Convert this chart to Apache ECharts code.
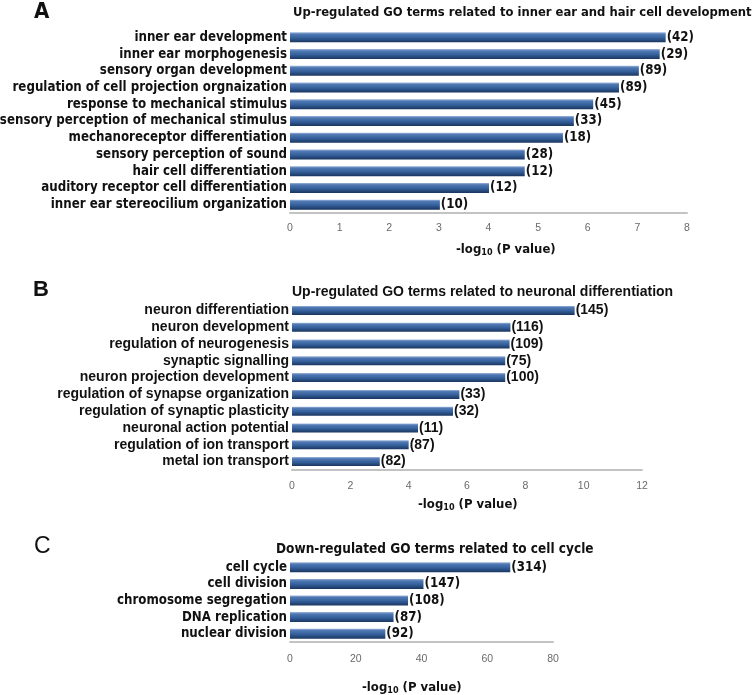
<!DOCTYPE html>
<html>
<head>
<meta charset="utf-8">
<script src="https://cdn.jsdelivr.net/npm/echarts@6/dist/echarts.min.js"></script>
<style>html,body{margin:0;padding:0;background:#fff;}#c{width:755px;height:695px;}</style>
</head>
<body>
<div id="c"></div>
<script>
// Panel A
const catA = ['inner ear development','inner ear morphogenesis','sensory organ development','regulation of cell projection orgnaization','response to mechanical stimulus','sensory perception of mechanical stimulus','mechanoreceptor differentiation','sensory perception of sound','hair cell differentiation','auditory receptor cell differentiation','inner ear stereocilium organization'];
const valA = [7.57, 7.45, 7.03, 6.63, 6.11, 5.72, 5.50, 4.73, 4.73, 4.01, 3.02];
const cntA = [42, 29, 89, 89, 45, 33, 18, 28, 12, 12, 10];
const ticksA = {min: 0, max: 8, interval: 1};
// Panel B
const catB = ['neuron differentiation','neuron development','regulation of neurogenesis','synaptic signalling','neuron projection development','regulation of synapse organization','regulation of synaptic plasticity','neuronal action potential','regulation of ion transport','metal ion transport'];
const valB = [9.69, 7.49, 7.46, 7.31, 7.31, 5.74, 5.52, 4.32, 4.00, 3.01];
const cntB = [145, 116, 109, 75, 100, 33, 32, 11, 87, 82];
const ticksB = {min: 0, max: 12, interval: 2};
// Panel C
const catC = ['cell cycle','cell division','chromosome segregation','DNA replication','nuclear division'];
const valC = [67.0, 40.6, 35.9, 31.5, 29.0];
const cntC = [314, 147, 108, 87, 92];
const ticksC = {min: 0, max: 80, interval: 20};

const titles = ['Up-regulated GO terms related to inner ear and hair cell development','Up-regulated GO terms related to neuronal differentiation','Down-regulated GO terms related to cell cycle'];

const NARROW = "'Liberation Sans Narrow','DejaVu Sans Condensed','Arial Narrow',sans-serif";
const ARIAL = "'Liberation Sans',Arial,sans-serif";

const barColor = new echarts.graphic.LinearGradient(0, 0, 0, 1, [
  {offset: 0, color: '#9db6dc'},
  {offset: 0.18, color: '#5179b3'},
  {offset: 0.55, color: '#34609b'},
  {offset: 1, color: '#1a355f'}
]);

function xAx(idx, t, margin) {
  return {
    gridIndex: idx, type: 'value', min: t.min, max: t.max, interval: t.interval,
    axisLine: {show: true, lineStyle: {color: '#c3c3c3', width: 2}},
    axisTick: {show: false}, splitLine: {show: false},
    axisLabel: {color: '#6a6a6a', fontSize: 10.5, fontFamily: ARIAL, margin: margin}
  };
}
function yAx(idx, cats, font, size) {
  return {
    gridIndex: idx, type: 'category', data: cats, inverse: true,
    axisLine: {show: false}, axisTick: {show: false},
    axisLabel: {color: '#111', fontSize: size, fontWeight: 'bold', fontFamily: font, margin: 3, interval: 0}
  };
}
function ser(idx, vals, cnts, font, size, bw) {
  return {
    type: 'bar', xAxisIndex: idx, yAxisIndex: idx, data: vals, barWidth: bw,
    itemStyle: {color: barColor},
    label: {show: true, position: 'right', distance: 1, color: '#111', fontWeight: 'bold', fontSize: size, fontFamily: font,
      formatter: p => '(' + cnts[p.dataIndex] + ')'},
    silent: true, animation: false
  };
}
function axisName(x, y, font) {
  return {type: 'text', left: x, top: y, style: {
    text: '-log{s|10} (P value)', font: 'bold 13px ' + font, fill: '#111',
    rich: {s: {fontSize: 9, fontWeight: 'bold', fontFamily: font, verticalAlign: 'bottom', padding: [6, 0, 0, 0]}}
  }};
}

const chart = echarts.init(document.getElementById('c'), null, {renderer: 'canvas'});
chart.setOption({
  animation: false,
  grid: [
    {left: 290, top: 29, width: 397, height: 184, outerBoundsMode: 'none', containLabel: false},
    {left: 292, top: 302, width: 350, height: 168, outerBoundsMode: 'none', containLabel: false},
    {left: 290, top: 559, width: 263, height: 83, outerBoundsMode: 'none', containLabel: false}
  ],
  xAxis: [xAx(0, ticksA, 10), xAx(1, ticksB, 11), xAx(2, ticksC, 12)],
  yAxis: [yAx(0, catA, NARROW, 13.2), yAx(1, catB, ARIAL, 14), yAx(2, catC, NARROW, 13.2)],
  series: [ser(0, valA, cntA, NARROW, 13.2, 10), ser(1, valB, cntB, ARIAL, 14, 9), ser(2, valC, cntC, NARROW, 13.2, 10)],
  graphic: [
    {type: 'text', left: 34, top: 1, style: {text: 'A', font: 'bold 22px ' + NARROW, fill: '#111'}},
    {type: 'text', left: 33, top: 279, style: {text: 'B', font: 'bold 22px ' + ARIAL, fill: '#111'}},
    {type: 'text', left: 34, top: 535, style: {text: 'C', font: '23px ' + ARIAL, fill: '#111'}},
    {type: 'text', left: 293, top: 6, style: {text: titles[0], font: 'bold 12.9px ' + NARROW, fill: '#111'}},
    {type: 'text', left: 292, top: 285, style: {text: titles[1], font: 'bold 14px ' + ARIAL, fill: '#111'}},
    {type: 'text', left: 276, top: 542, style: {text: titles[2], font: 'bold 13.5px ' + NARROW, fill: '#111'}},
    axisName(456, 243, NARROW),
    axisName(418, 498, NARROW),
    axisName(362, 681, NARROW)
  ]
});
</script>
</body>
</html>
